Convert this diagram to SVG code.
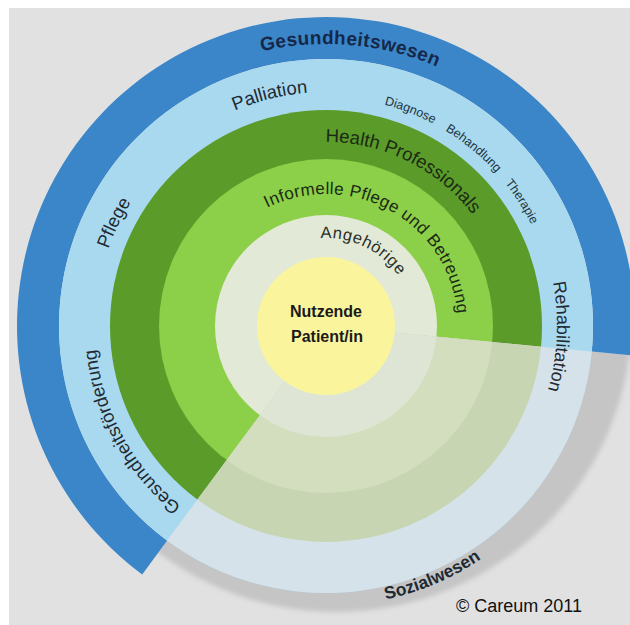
<svg xmlns="http://www.w3.org/2000/svg" xmlns:xlink="http://www.w3.org/1999/xlink" width="630" height="625" viewBox="0 0 630 625">
<style>
.t{font-family:"Liberation Sans",Arial,sans-serif;fill:#1e2a33}
.b{font-weight:bold}
</style>
<defs>
<clipPath id="wedge"><polygon points="326,326 923,383.5 786,712 626,846 326,926 -31,808"/></clipPath>
<filter id="soft" x="-10%" y="-10%" width="120%" height="120%"><feGaussianBlur stdDeviation="2.5"/></filter>
<path id="cw282" d="M326,608 A282,282 0 1 1 326,44 A282,282 0 1 1 326,608"/>
<path id="cw234" d="M326,560 A234,234 0 1 1 326,92 A234,234 0 1 1 326,560"/>
<path id="cw229" d="M326,555 A229,229 0 1 1 326,97 A229,229 0 1 1 326,555"/>
<path id="cw231" d="M326,557 A231,231 0 1 1 326,95 A231,231 0 1 1 326,557"/>
<path id="cw184" d="M326,510 A184,184 0 1 1 326,142 A184,184 0 1 1 326,510"/>
<path id="cw132" d="M326,458 A132,132 0 1 1 326,194 A132,132 0 1 1 326,458"/>
<path id="cw88" d="M326,414 A88,88 0 1 1 326,238 A88,88 0 1 1 326,414"/>
<path id="ccw280" d="M326,46 A280,280 0 1 0 326,606 A280,280 0 1 0 326,46"/>
</defs>
<rect width="630" height="625" fill="#ffffff"/>
<rect x="9" y="8" width="621" height="617" fill="#e1e1e1"/>

<g id="sozialwesen">
<g clip-path="url(#wedge)"><circle cx="336" cy="316" r="296" fill="#c5c5c5" filter="url(#soft)"/></g>
<text class="t b" font-size="17.5"><textPath href="#ccw280" xlink:href="#ccw280" startOffset="56.39%" text-anchor="middle">Sozialwesen</textPath></text>
</g>

<g id="gesundheitswesen">
<path d="M142.2,574.4 A309,309 0 1 1 633.6,355.6 L591.8,351.6 A267,267 0 1 0 167.2,540.6 Z" fill="#3b86c8"/>
<text class="t b" font-size="19" letter-spacing="0.4" style="fill:#16284a"><textPath href="#cw282" xlink:href="#cw282" startOffset="51.39%" text-anchor="middle">Gesundheitswesen</textPath></text>
</g>

<g id="versorgung">
<circle cx="326" cy="326" r="267" fill="#a9d9ef"/>
</g>
<g id="health-professionals">
<circle cx="326" cy="326" r="216" fill="#5b9b2a"/>
</g>
<g id="informelle-pflege">
<circle cx="326" cy="326" r="167" fill="#8ccf48"/>
</g>
<g id="angehoerige">
<circle cx="326" cy="326" r="111" fill="#e2e9d6"/>
</g>

<g id="sektor-sozial" clip-path="url(#wedge)">
<circle cx="326" cy="326" r="267" fill="#d6e2ea"/>
<circle cx="326" cy="326" r="216" fill="#c8d5b3"/>
<circle cx="326" cy="326" r="167" fill="#d3debf"/>
<circle cx="326" cy="326" r="111" fill="#dee5d4"/>
</g>

<g id="labels">
<text class="t" font-size="18.5"><textPath href="#cw234" xlink:href="#cw234" startOffset="46.19%" text-anchor="middle">Palliation</textPath></text>
<text class="t" font-size="12.5" word-spacing="10" style="fill:#1c3440"><textPath href="#cw229" xlink:href="#cw229" startOffset="60.9%" text-anchor="middle">Diagnose Behandlung Therapie</textPath></text>
<text class="t" font-size="18.5"><textPath href="#cw231" xlink:href="#cw231" startOffset="32.22%" text-anchor="middle">Pflege</textPath></text>
<text class="t" font-size="18.5"><textPath href="#cw231" xlink:href="#cw231" startOffset="17.08%" text-anchor="middle">Gesundheitsförderung</textPath></text>
<text class="t" font-size="18"><textPath href="#cw231" xlink:href="#cw231" startOffset="75.72%" text-anchor="middle">Rehabilitation</textPath></text>
<text class="t" font-size="18.5" style="fill:#1a2a14"><textPath href="#cw184" xlink:href="#cw184" startOffset="57.3%" text-anchor="middle">Health Professionals</textPath></text>
<text class="t" font-size="17" letter-spacing="0.4" style="fill:#1a2a14"><textPath href="#cw132" xlink:href="#cw132" startOffset="58.1%" text-anchor="middle">Informelle Pflege und Betreuung</textPath></text>
<text class="t" font-size="16.5" letter-spacing="0.6" style="fill:#2a2f2a"><textPath href="#cw88" xlink:href="#cw88" startOffset="57.22%" text-anchor="middle">Angehörige</textPath></text>
</g>

<g id="patient">
<circle cx="326" cy="326" r="69" fill="#faf59c"/>
<text class="t b" font-size="16" text-anchor="middle" style="fill:#1a1a1a"><tspan x="326" y="317">Nutzende</tspan><tspan x="327" y="342">Patient/in</tspan></text>
</g>

<text class="t" x="582" y="612" font-size="18" text-anchor="end" style="fill:#111">© Careum 2011</text>
</svg>
